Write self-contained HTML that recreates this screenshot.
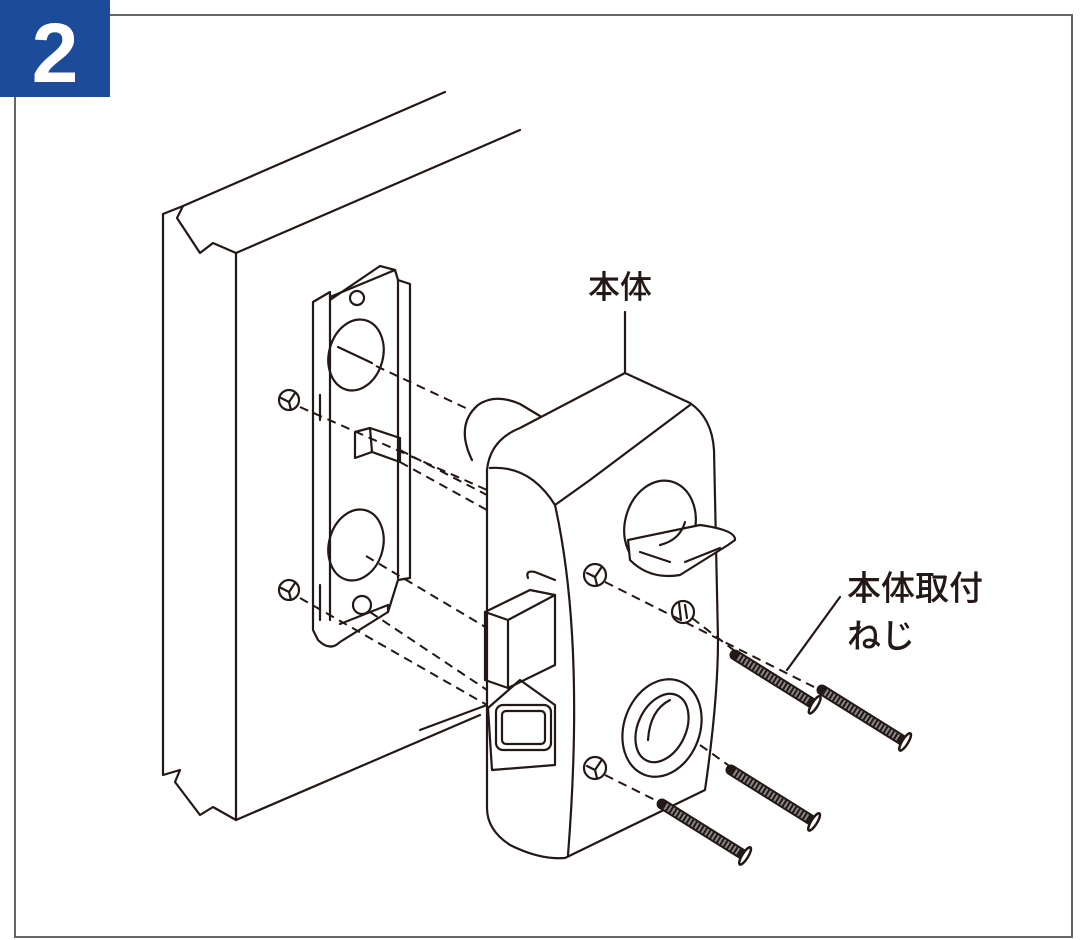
<!DOCTYPE html>
<html><head><meta charset="utf-8"><style>
html,body{margin:0;padding:0;background:#fff;width:1088px;height:940px;overflow:hidden}
svg{display:block}
</style></head><body>
<svg width="1088" height="940" viewBox="0 0 1088 940" xmlns="http://www.w3.org/2000/svg">
<rect x="15" y="15" width="1057" height="922" fill="#fff" stroke="#666" stroke-width="2"/>
<rect x="0" y="0" width="110" height="97" fill="#1c4b9a"/>
<text x="55" y="82" font-family="Liberation Sans, sans-serif" font-weight="bold" font-size="84" fill="#fff" text-anchor="middle">2</text>
<g fill="none" stroke="#231815" stroke-width="2.2" stroke-linejoin="round" stroke-linecap="round">
<!-- door -->
<path d="M163 214 L183 206 L177 218 L200 253 L213 243 L236 253 L520 130"/>
<path d="M183 206 L445 92"/>
<path d="M163 214 L163 775 L180 770 L175 782 L200 815 L213 807 L236 820"/>
<path d="M236 253 L236 820 L480 715"/>
<!-- strike plate -->
<path d="M313 302 L330 292 L330 300 L380 266 L395 270 L398 280 L410 284 L410 578 L398 580 L388 612 L340 642 Q330 652 318 640 L313 630 Z"/>
<path d="M330 300 L330 620"/><path d="M398 280 L398 578"/>
<path d="M320 395 L320 420"/><path d="M320 585 L320 620"/>
<path d="M330 297 L395 270"/>
<ellipse cx="356" cy="355" rx="27" ry="36" transform="rotate(15 356 355)"/>
<line x1="338" y1="347" x2="372" y2="363"/>
<ellipse cx="356" cy="545" rx="27" ry="36" transform="rotate(15 356 545)"/>
<circle cx="357" cy="298" r="7"/><circle cx="362" cy="605" r="9"/>
<path d="M340 624 L388 605 L388 612"/>
<path d="M355 432 L370 428 L400 438 L400 462 L372 452 L355 458 Z"/>
<line x1="370" y1="428" x2="372" y2="452"/>
<circle cx="289" cy="400" r="10"/><path d="M281 398 L289 402 L295 393 M289 402 L291 410"/>
<circle cx="289" cy="590" r="10"/><path d="M281 588 L289 592 L295 583 M289 592 L291 600"/>
<!-- body -->
<path d="M472 460 Q455 425 478 405 Q495 393 520 404 L540 416" fill="#fff"/>
<path d="M487 470 Q490 440 520 428 L625 373 L690 403 Q712 418 714 450 L718 640 Q718 700 705 790 L565 858 Q540 860 510 845 Q487 830 487 808 Z" fill="#fff"/>
<path d="M490 468 Q530 465 555 505 L590 480 L690 405"/>
<path d="M555 505 Q585 640 568 855"/>
<line x1="625" y1="373" x2="625" y2="312"/>
<!-- thumb turn -->
<ellipse cx="660" cy="525" rx="35" ry="45" transform="rotate(15 660 525)"/>
<path d="M628 540 L700 525 Q736 530 735 540 L728 545 L680 575 Q650 580 630 560 Z" fill="#fff"/>
<path d="M640 552 L670 562 M685 562 L720 548 M660 545 Q680 540 685 522"/>
<!-- latch -->
<path d="M528 578 Q525 570 535 572 L555 580"/>
<path d="M485 612 L530 590 L555 595 L555 665 L508 688 L485 680 Z"/>
<path d="M485 612 L508 620 L555 595 M508 620 L508 688"/>
<path d="M488 708 L520 680 L555 705 L555 765 L492 770 Z"/>
<rect x="496" y="705" width="55" height="45" rx="7"/>
<rect x="502" y="711" width="43" height="33" rx="4"/>
<path d="M487 705 L420 730"/>
<!-- holes -->
<circle cx="595" cy="575" r="11"/><path d="M587 573 L595 577 L601 568 M595 577 L597 585"/>
<circle cx="683" cy="612" r="11"/><path d="M679 603 L681 620 M685 605 L687 618"/>
<circle cx="595" cy="768" r="11"/><path d="M587 766 L595 770 L601 761 M595 770 L597 778"/>
<ellipse cx="662" cy="728" rx="38" ry="50" transform="rotate(20 662 728)"/>
<ellipse cx="662" cy="728" rx="24" ry="36" transform="rotate(25 662 728)"/>
<path d="M648 740 Q650 710 670 700"/>
<!-- leader -->
<line x1="840" y1="597" x2="787" y2="670"/>
</g>
<!-- dashed lines -->
<g stroke="#231815" stroke-width="2" stroke-dasharray="9 6" fill="none">
<line x1="376" y1="366" x2="470" y2="410"/>
<line x1="300" y1="407" x2="487" y2="490"/>
<line x1="400" y1="450" x2="487" y2="495"/>
<line x1="400" y1="462" x2="487" y2="510"/>
<line x1="366" y1="556" x2="487" y2="628"/>
<line x1="300" y1="598" x2="487" y2="705"/>
<line x1="370" y1="612" x2="487" y2="690"/>
<line x1="605" y1="582" x2="820" y2="690"/>
<line x1="692" y1="618" x2="740" y2="655"/>
<line x1="605" y1="775" x2="665" y2="805"/>
<line x1="700" y1="745" x2="735" y2="770"/>
</g>
<!-- screws -->
<g stroke-linecap="round">
<g transform="translate(735,655) rotate(32)">
<line x1="0" y1="0" x2="92" y2="0" stroke="#231815" stroke-width="11"/>
<line x1="4" y1="0" x2="88" y2="0" stroke="#888" stroke-width="7" stroke-dasharray="2 2" stroke-linecap="butt"/>
<ellipse cx="94" cy="0" rx="3" ry="10" fill="#fff" stroke="#231815" stroke-width="2.5"/>
</g>
<g transform="translate(822,690) rotate(32)">
<line x1="0" y1="0" x2="96" y2="0" stroke="#231815" stroke-width="11"/>
<line x1="4" y1="0" x2="92" y2="0" stroke="#888" stroke-width="7" stroke-dasharray="2 2" stroke-linecap="butt"/>
<ellipse cx="98" cy="0" rx="3" ry="10" fill="#fff" stroke="#231815" stroke-width="2.5"/>
</g>
<g transform="translate(731,770) rotate(32)">
<line x1="0" y1="0" x2="96" y2="0" stroke="#231815" stroke-width="11"/>
<line x1="4" y1="0" x2="92" y2="0" stroke="#888" stroke-width="7" stroke-dasharray="2 2" stroke-linecap="butt"/>
<ellipse cx="98" cy="0" rx="3" ry="10" fill="#fff" stroke="#231815" stroke-width="2.5"/>
</g>
<g transform="translate(662,804) rotate(32)">
<line x1="0" y1="0" x2="96" y2="0" stroke="#231815" stroke-width="11"/>
<line x1="4" y1="0" x2="92" y2="0" stroke="#888" stroke-width="7" stroke-dasharray="2 2" stroke-linecap="butt"/>
<ellipse cx="98" cy="0" rx="3" ry="10" fill="#fff" stroke="#231815" stroke-width="2.5"/>
</g>
</g>
<g font-family="Liberation Sans, 'Noto Sans CJK JP', sans-serif" fill="#231815" font-weight="500">
<text x="588" y="298" font-size="32">本体</text>
<text x="847" y="600" font-size="34">本体取付</text>
<text x="847" y="648" font-size="34">ねじ</text>
</g>
</svg>
</body></html>
